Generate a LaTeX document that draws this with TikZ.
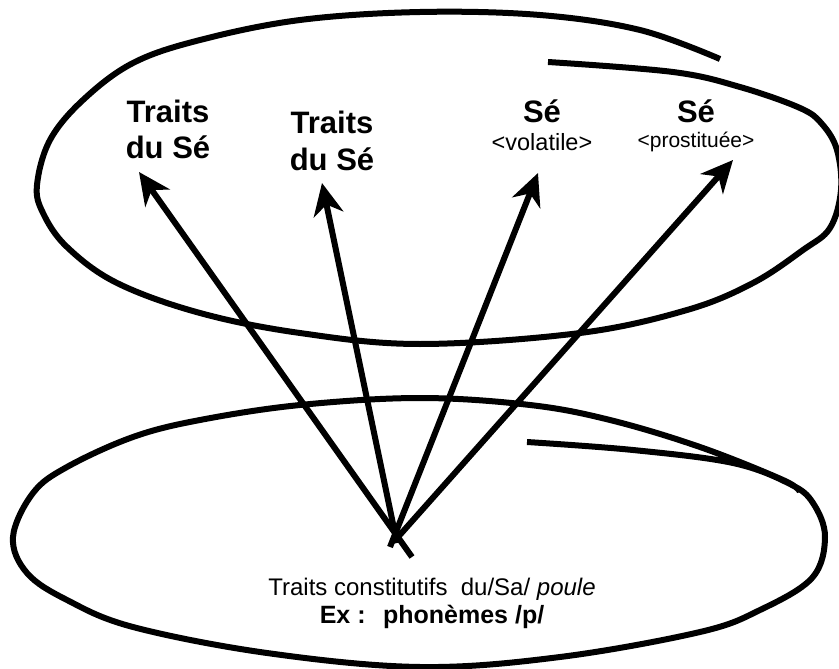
\documentclass[tikz,border=0pt]{standalone}
\usepackage{fontspec}
\setmainfont{Liberation Sans}
\usetikzlibrary{arrows.meta}
\begin{document}
\begin{tikzpicture}[x=1pt,y=-1pt,
  loopline/.style={line width=6pt, line join=round},
  link/.style={line width=6pt, -{Stealth[length=32pt,width=30pt,inset=10pt]}},
  head/.style={font=\fontsize{31}{36}\selectfont\bfseries, inner sep=0pt, anchor=base},
  sub/.style={inner sep=0pt, anchor=base},
  foot/.style={font=\fontsize{24}{28}\selectfont, inner sep=0pt, anchor=base},
  footbold/.style={font=\fontsize{25}{30}\selectfont\bfseries, inner sep=0pt, anchor=base}
]
\path[use as bounding box] (0,0) rectangle (839,669);
\clip (0,0) rectangle (839,669);

% upper loop: signified
\draw[loopline] plot[smooth, tension=0.6] coordinates {
  (720,59) (640,30) (540,15) (420,12) (300,20) (200,40) (133,63) (83,100)
  (50,140) (37,185) (43,213) (67,247) (117,283) (200,313) (300,333)
  (420,344) (580,333) (687,310) (753,283) (803,250) (830,228) (841,190)
  (837,150) (822,124) (800,108) (740,87) (673,72) (548,62)};

% lower loop: signifier
\draw[loopline] plot[smooth, tension=0.6] coordinates {
  (527,442) (633,450) (733,463) (790,484) (813,503) (825,537) (812,578)
  (760,610) (700,632) (560,657) (420,667) (267,653) (133,627) (67,600)
  (27,573) (13,537) (33,493) (67,467) (133,437) (200,420) (300,405)
  (420,398) (530,405) (610,420) (700,447) (783,480) (800,492)};

% labels in the upper loop
\node[head] (t1a) at (168,122) {Traits};
\node[head] (t1b) at (168,158) {du Sé};
\node[head] (t2a) at (332,133) {Traits};
\node[head] (t2b) at (332,170) {du Sé};
\node[head] (s3a) at (542,122) {Sé};
\node[sub, font=\fontsize{23.5}{28}\selectfont] (s3b) at (542,150) {<volatile>};
\node[head] (s4a) at (696,122) {Sé};
\node[sub, font=\fontsize{21}{25}\selectfont] (s4b) at (696,147) {<prostituée>};

% labels in the lower loop
\node[foot] (b1) at (432,595) {Traits constitutifs\ \ du/Sa/ \textit{poule}};
\node[footbold] (b2) at (432,623) {Ex :\hspace{0.7em}phonèmes /p/};

% arrow ends
\coordinate (o1) at (412,557);
\coordinate (o2) at (397,543);
\coordinate (o3) at (390,547);
\coordinate (o4) at (398,537);
\coordinate (h1) at (139,172);
\coordinate (h2) at (322,183);
\coordinate (h3) at (538,173);
\coordinate (h4) at (733,160);

\draw[link] (o1) -- (h1);
\draw[link] (o2) -- (h2);
\draw[link] (o3) -- (h3);
\draw[link] (o4) -- (h4);
\end{tikzpicture}
\end{document}
